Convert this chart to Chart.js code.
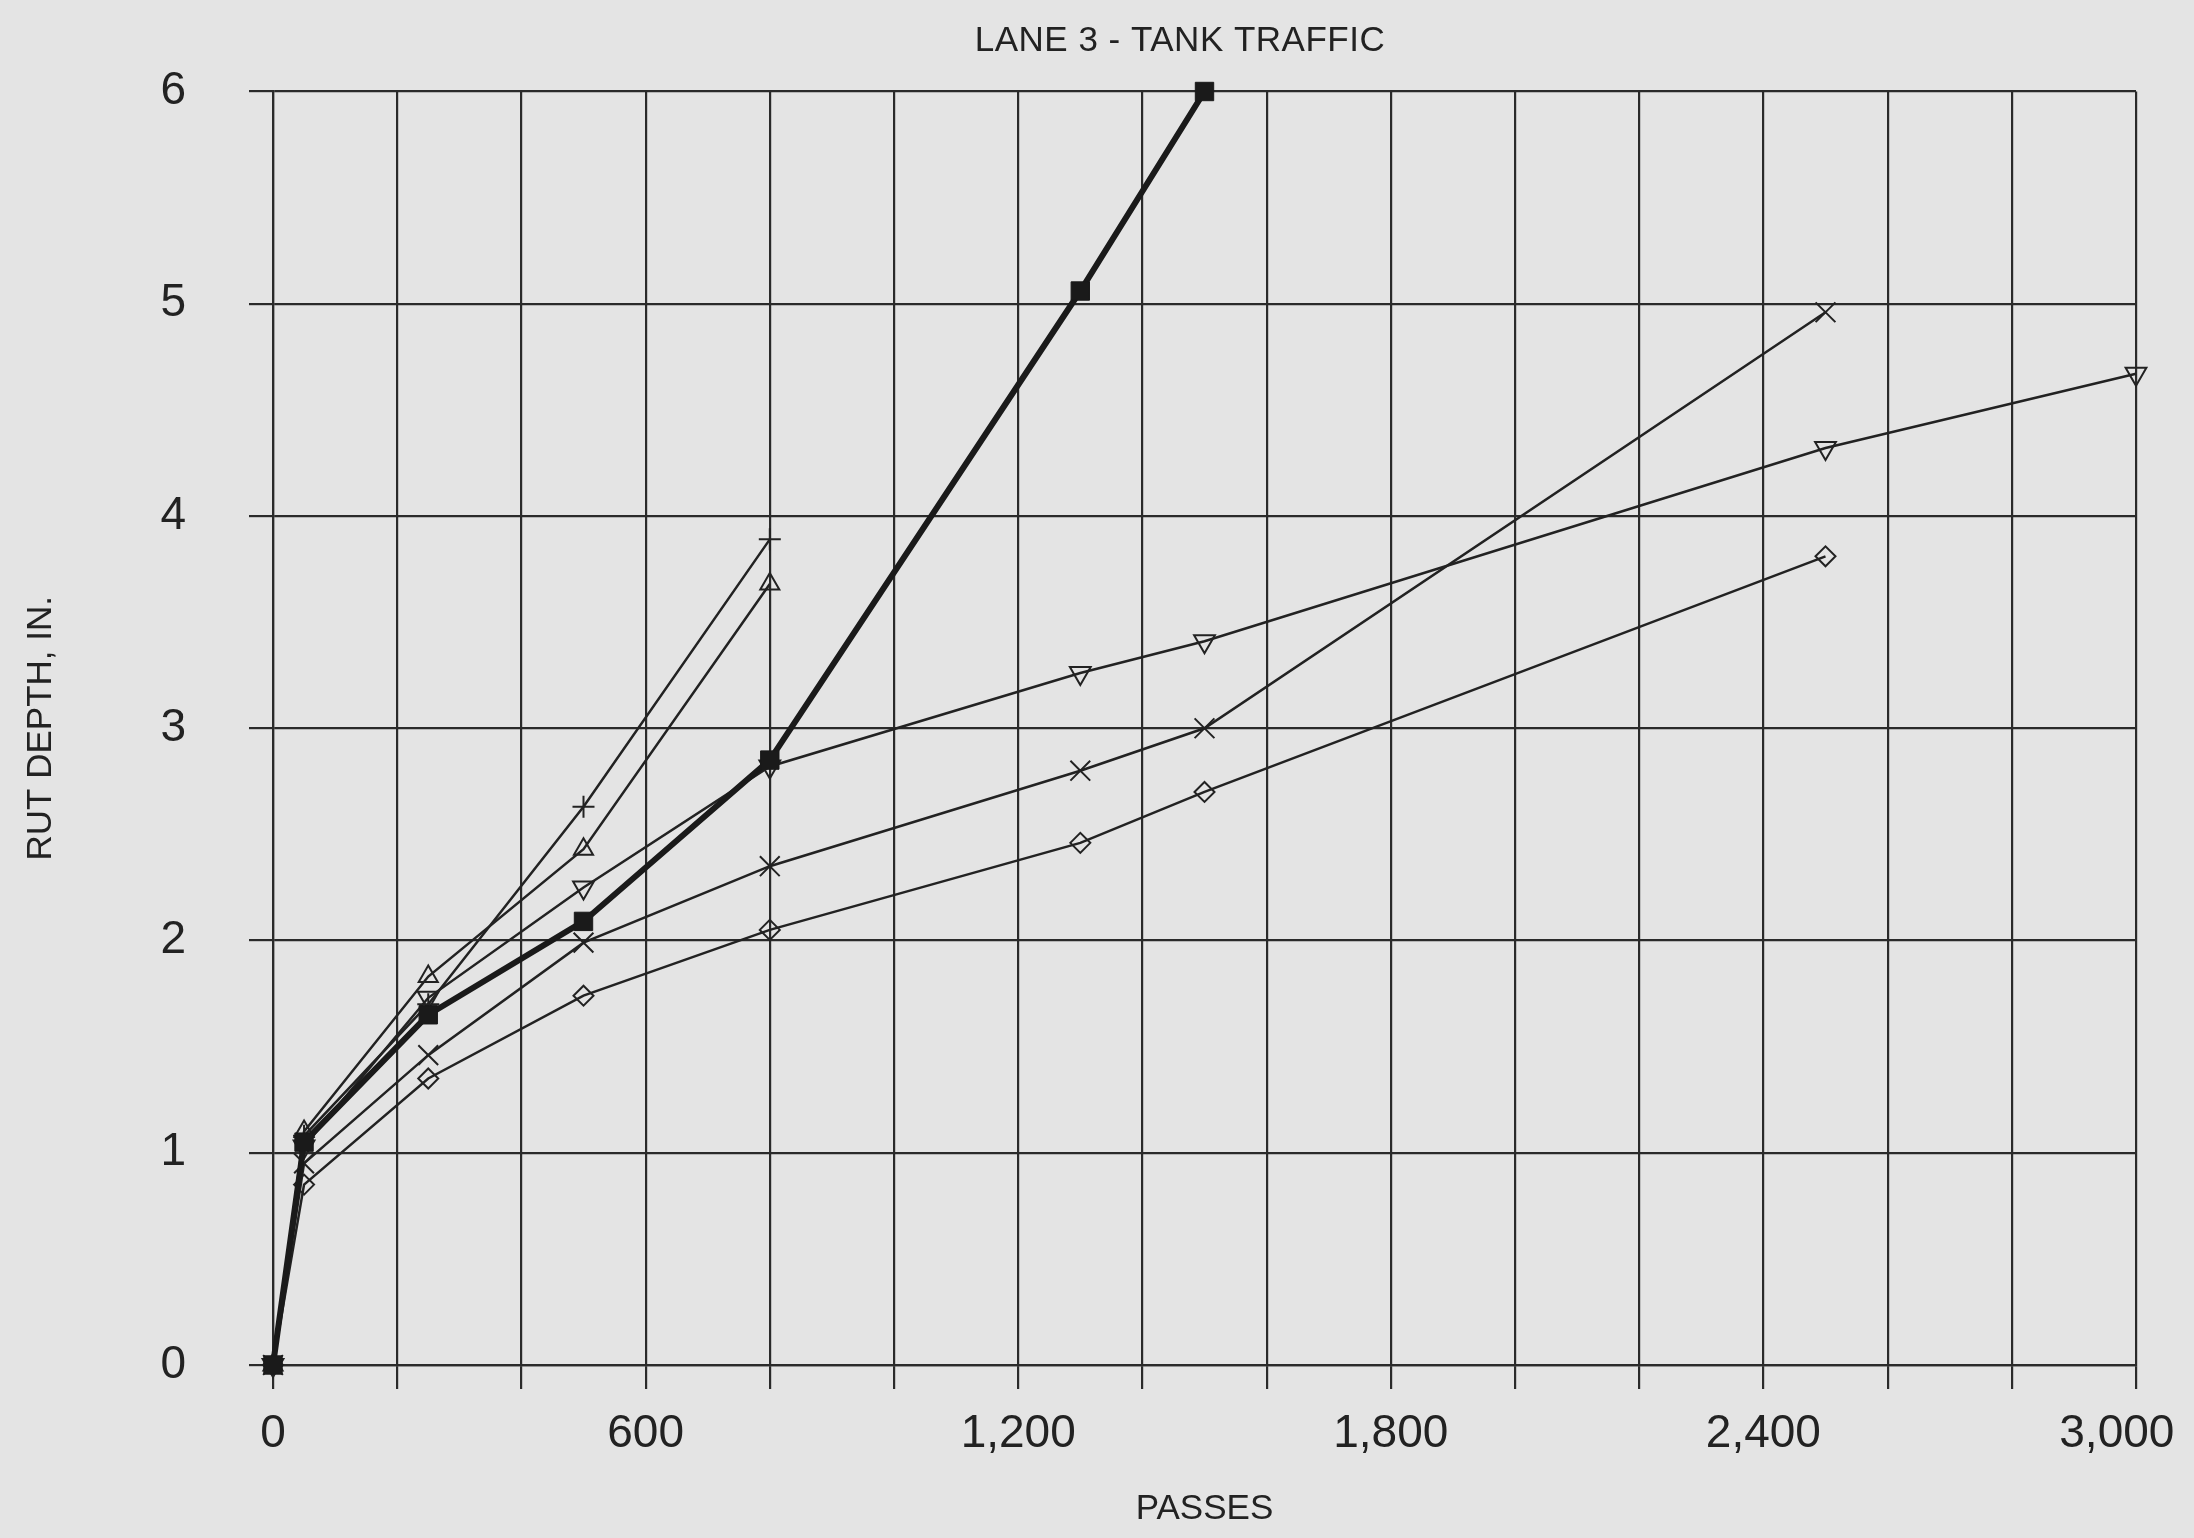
<!DOCTYPE html>
<html>
<head>
<meta charset="utf-8">
<script src="https://cdn.jsdelivr.net/npm/chart.js@4.4.0/dist/chart.umd.min.js"></script>
<style>
  html, body { margin: 0; padding: 0; background: #e4e4e4; }
  #wrap { width: 2194px; height: 1538px; position: relative; }
  canvas { display: block; }
</style>
</head>
<body>
<div id="wrap"><canvas id="c" width="2194" height="1538"></canvas></div>
<script>
// ---- Data ----
const chartTitle = "LANE 3 - TANK TRAFFIC";
const xAxisTitle = "PASSES";
const yAxisTitle = "RUT DEPTH, IN.";

// Heavy line, filled squares
const squarePasses = [0, 50, 250, 500, 800, 1300, 1500];
const squareDepth  = [0, 1.05, 1.65, 2.09, 2.85, 5.06, 6.0];

// Plus markers (steepest thin line)
const plusPasses = [0, 50, 250, 500, 800];
const plusDepth  = [0, 1.08, 1.70, 2.63, 3.89];

// Up triangles
const triUpPasses = [0, 50, 250, 500, 800];
const triUpDepth  = [0, 1.10, 1.83, 2.43, 3.68];

// Down triangles
const triDownPasses = [0, 50, 250, 500, 800, 1300, 1500, 2500, 3000];
const triDownDepth  = [0, 1.03, 1.73, 2.25, 2.82, 3.26, 3.41, 4.32, 4.67];

// X markers
const crossPasses = [0, 50, 250, 500, 800, 1300, 1500, 2500];
const crossDepth  = [0, 0.95, 1.46, 1.99, 2.35, 2.80, 3.00, 4.96];

// Diamonds
const diamondPasses = [0, 50, 250, 500, 800, 1300, 1500, 2500];
const diamondDepth  = [0, 0.85, 1.35, 1.74, 2.05, 2.46, 2.70, 3.81];

// Axis ticks
const xMin = 0, xMax = 3000, xStep = 200, xLabelEvery = 600;
const yMin = 0, yMax = 6, yStep = 1;

// ---- Helpers ----
function pts(xs, ys) { return xs.map((x, i) => ({ x: x, y: ys[i] })); }

const INK = '#222222';
const PAPER = '#e4e4e4';

function thinSeries(label, xs, ys, style, radius, rotation) {
  return {
    label: label,
    data: pts(xs, ys),
    borderColor: INK,
    borderWidth: 2.5,
    pointStyle: style,
    pointRadius: radius,
    pointRotation: rotation || 0,
    pointBorderColor: INK,
    pointBackgroundColor: 'rgba(0,0,0,0)',
    pointBorderWidth: 2,
    tension: 0,
    fill: false,
    clip: false
  };
}

const datasets = [
  {
    label: 'Squares',
    data: pts(squarePasses, squareDepth),
    borderColor: '#1a1a1a',
    borderWidth: 6,
    pointStyle: 'rect',
    pointRadius: 13,
    pointBorderColor: '#1a1a1a',
    pointBackgroundColor: '#1a1a1a',
    pointBorderWidth: 1,
    tension: 0,
    fill: false,
    clip: false
  },
  thinSeries('Plus', plusPasses, plusDepth, 'cross', 11, 0),
  thinSeries('Up triangles', triUpPasses, triUpDepth, 'triangle', 11, 0),
  thinSeries('Down triangles', triDownPasses, triDownDepth, 'triangle', 12, 180),
  thinSeries('Crosses', crossPasses, crossDepth, 'crossRot', 14, 0),
  thinSeries('Diamonds', diamondPasses, diamondDepth, 'rectRot', 10, 0)
];

// Canvas paper background + chart title text
const paperPlugin = {
  id: 'paper',
  beforeDraw(chart) {
    const ctx = chart.ctx;
    ctx.save();
    ctx.fillStyle = PAPER;
    ctx.fillRect(0, 0, chart.width, chart.height);
    ctx.restore();
  },
  afterDraw(chart) {
    const ctx = chart.ctx;
    ctx.save();
    ctx.fillStyle = INK;
    ctx.font = '35px "Liberation Sans", Arial, sans-serif';
    if ('letterSpacing' in ctx) ctx.letterSpacing = '0.5px';
    ctx.textAlign = 'center';
    ctx.textBaseline = 'middle';
    ctx.fillText(chartTitle, 1180, 41);
    ctx.restore();
  }
};

const GRID = '#2a2a2a';
const CHART_LEFT = 273, CHART_TOP = 91.5, CHART_RIGHT = 2136, CHART_BOTTOM = 1365;

function xLabel(v) {
  if (v % xLabelEvery !== 0) return '';
  const s = Number(v).toLocaleString('en-US');
  // the last label sits slightly inward so it is not cut by the page edge
  return v === xMax ? s + '   ' : s;
}

new Chart(document.getElementById('c'), {
  type: 'line',
  data: { datasets: datasets },
  options: {
    responsive: false,
    animation: false,
    devicePixelRatio: 1,
    layout: { padding: { top: CHART_TOP, right: 2194 - CHART_RIGHT, bottom: 0, left: 0 } },
    plugins: {
      legend: { display: false },
      title: { display: false },
      tooltip: { enabled: false }
    },
    scales: {
      x: {
        type: 'linear',
        min: xMin, max: xMax,
        ticks: {
          stepSize: xStep,
          autoSkip: false,
          maxRotation: 0,
          minRotation: 0,
          padding: 18,
          color: INK,
          font: { family: '"Liberation Sans", Arial, sans-serif', size: 46 },
          callback: xLabel
        },
        grid: { color: GRID, lineWidth: 2.2, drawTicks: true, tickLength: 24, tickColor: GRID },
        border: { display: true, color: GRID, width: 2.2 },
        title: {
          display: true,
          text: xAxisTitle,
          color: INK,
          font: { family: '"Liberation Sans", Arial, sans-serif', size: 35 },
          padding: { top: 0, bottom: 8 }
        },
        afterFit(scale) {
          scale.height = 1538 - CHART_BOTTOM;
          scale.paddingLeft = 0;
          scale.paddingRight = 0;
        }
      },
      y: {
        type: 'linear',
        min: yMin, max: yMax,
        ticks: {
          stepSize: yStep,
          padding: 63,
          color: INK,
          font: { family: '"Liberation Sans", Arial, sans-serif', size: 46 }
        },
        grid: { color: GRID, lineWidth: 2.2, drawTicks: true, tickLength: 24, tickColor: GRID },
        border: { display: true, color: GRID, width: 2.2 },
        title: {
          display: true,
          text: yAxisTitle,
          color: INK,
          font: { family: '"Liberation Sans", Arial, sans-serif', size: 35 },
          padding: { top: 20, bottom: 0 }
        },
        afterFit(scale) {
          scale.width = CHART_LEFT;
          scale.paddingTop = 0;
          scale.paddingBottom = 0;
        }
      }
    }
  },
  plugins: [paperPlugin]
});
</script>
</body>
</html>
